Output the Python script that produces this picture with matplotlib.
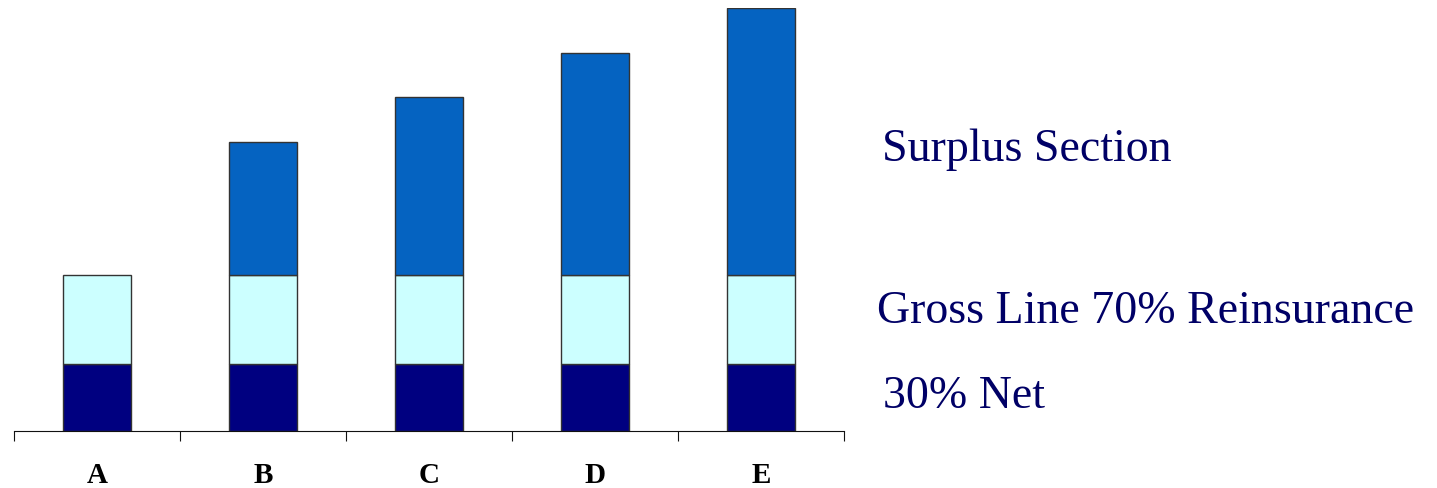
import numpy as np
import matplotlib.pyplot as plt

categories = ['A', 'B', 'C', 'D', 'E']
net = [1.5, 1.5, 1.5, 1.5, 1.5]
reinsurance = [2.0, 2.0, 2.0, 2.0, 2.0]
surplus = [0, 3, 4, 5, 6]
labels = ['Surplus Section', 'Gross Line 70% Reinsurance', '30% Net']

plt.rcParams['font.family'] = ['Liberation Serif', 'DejaVu Serif']

fig = plt.figure(figsize=(14.37, 4.89), dpi=100)
ax = fig.add_axes([14 / 1437, 57 / 489, 830 / 1437, 423 / 489])

x = np.arange(len(categories))
w = 0.41
edge = dict(edgecolor='#333333', linewidth=1)
ax.bar(x, net, w, color='#000080', **edge)
ax.bar(x, reinsurance, w, bottom=net, color='#CCFFFF', **edge)
bottom2 = np.array(net) + np.array(reinsurance)
ax.bar(x[1:], np.array(surplus)[1:], w, bottom=bottom2[1:], color='#0563C1', **edge)

ax.set_xlim(-0.5, len(categories) - 0.5)
ax.set_ylim(0, 9.5)
for s in ['top', 'right', 'left']:
    ax.spines[s].set_visible(False)
ax.spines['bottom'].set_color('#111111')
ax.set_yticks([])
ax.set_xticks(np.arange(len(categories) + 1) - 0.5)
ax.set_xticklabels([])
ax.tick_params(axis='x', direction='out', length=7, color='#111111')
for i, c in enumerate(categories):
    ax.text(i, -0.98, c, ha='center', va='center', fontsize=21, fontweight='bold')

fig.text(882 / 1437, 1 - 150 / 489, labels[0], color='#000066', fontsize=33, va='center')
fig.text(877 / 1437, 1 - 312 / 489, labels[1], color='#000066', fontsize=33, va='center')
fig.text(883 / 1437, 1 - 397 / 489, labels[2], color='#000066', fontsize=33, va='center')

fig.savefig('out.png', dpi=100)
